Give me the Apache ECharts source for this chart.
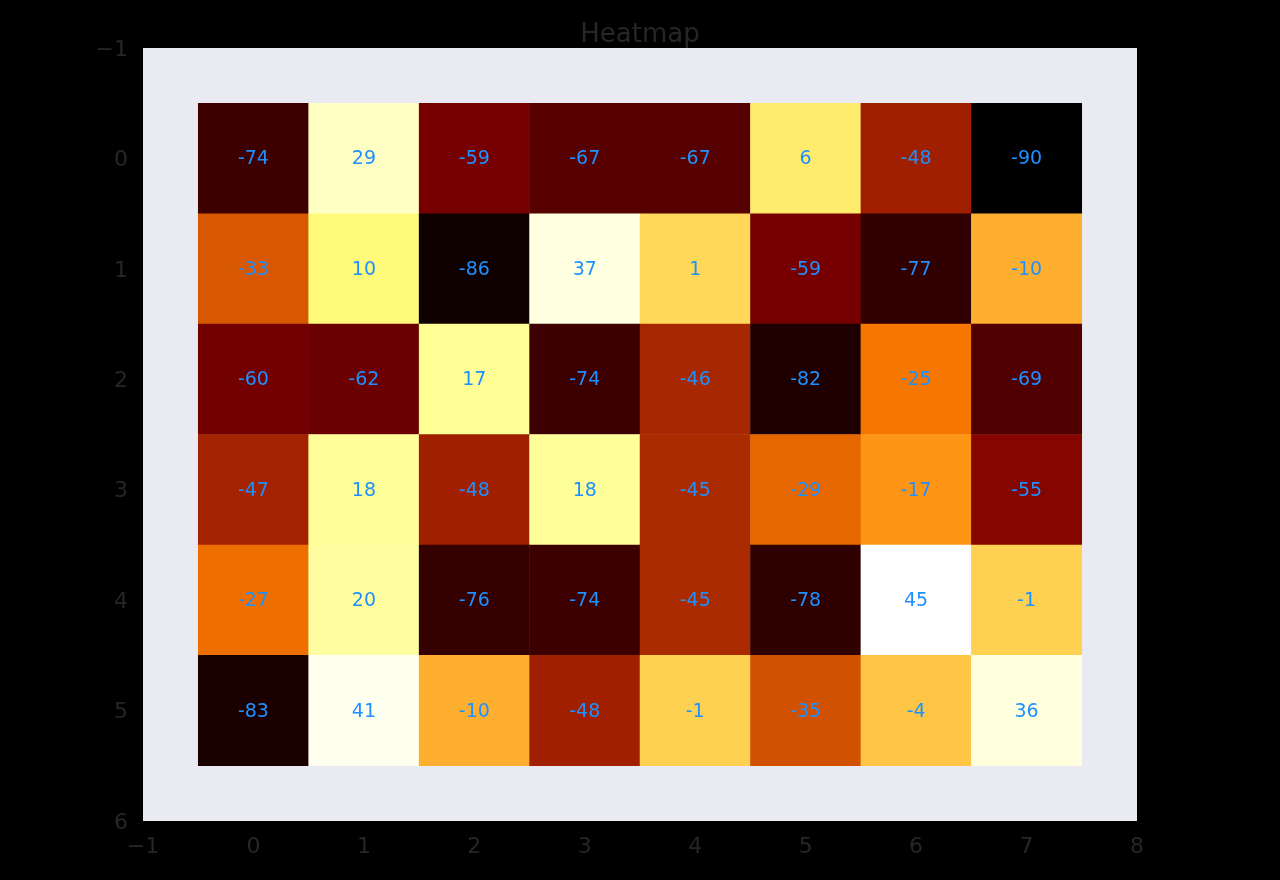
<!DOCTYPE html>
<html>
<head>
<meta charset="utf-8">
<title>Heatmap</title>
<script src="https://cdn.jsdelivr.net/npm/echarts@6/dist/echarts.min.js"></script>
<style>
	html, body { margin: 0; padding: 0; background: #000; }
	#chart { width: 1280px; height: 880px; }
</style>
</head>
<body>
<div id="chart"></div>
<script>
// tick labels (matplotlib style, unicode minus)
const xTicks = ['\u22121', '0', '1', '2', '3', '4', '5', '6', '7', '8'];
const yTicks = ['\u22121', '0', '1', '2', '3', '4', '5', '6'];

// one array per row of the image
const row0 = [-74, 29, -59, -67, -67, 6, -48, -90];
const row1 = [-33, 10, -86, 37, 1, -59, -77, -10];
const row2 = [-60, -62, 17, -74, -46, -82, -25, -69];
const row3 = [-47, 18, -48, 18, -45, -29, -17, -55];
const row4 = [-27, 20, -76, -74, -45, -78, 45, -1];
const row5 = [-83, 41, -10, -48, -1, -35, -4, 36];
const rows = [row0, row1, row2, row3, row4, row5];

const valueMin = -90;
const valueMax = 45;

// afmhot colormap stops (evenly spaced)
const afmhot = ['#000000', '#800000', '#ff8000', '#ffff80', '#ffffff'];

// cell (col, row) sits on tick index col + 1 / row + 1 because the axes start at -1
const cells = [];
rows.forEach((row, r) => {
	row.forEach((v, c) => {
		cells.push([c + 1, r + 1, v]);
	});
});

const tickText = {
	color: '#262626',
	fontSize: 22,
	fontFamily: 'DejaVu Sans'
};

const chart = echarts.init(document.getElementById('chart'));
chart.setOption({
	backgroundColor: '#000000',
	animation: false,
	title: {
		text: 'Heatmap',
		left: 'center',
		top: 17,
		textStyle: {
			color: '#262626',
			fontSize: 26,
			fontWeight: 'normal',
			fontFamily: 'DejaVu Sans'
		}
	},
	grid: {
		left: 143,
		top: 48,
		width: 994,
		height: 773,
		show: true,
		backgroundColor: '#eaeaf2',
		borderWidth: 0
	},
	xAxis: {
		type: 'category',
		data: xTicks,
		boundaryGap: false,
		axisLine: { show: false },
		axisTick: { show: false },
		splitLine: { show: false },
		axisLabel: { ...tickText, margin: 15, interval: 0 }
	},
	yAxis: {
		type: 'category',
		data: yTicks,
		inverse: true,
		boundaryGap: false,
		axisLine: { show: false },
		axisTick: { show: false },
		splitLine: { show: false },
		// small line box hung from the tick nudges the digits ~2px down, like matplotlib
		axisLabel: { ...tickText, margin: 15, interval: 0, verticalAlign: 'top', lineHeight: 4 }
	},
	visualMap: {
		show: false,
		type: 'continuous',
		min: valueMin,
		max: valueMax,
		dimension: 2,
		inRange: { color: afmhot }
	},
	series: [{
		type: 'heatmap',
		data: cells,
		itemStyle: { borderWidth: 0 },
		label: {
			show: true,
			color: '#1e90ff',
			fontSize: 19,
			fontFamily: 'DejaVu Sans',
			offset: [0, 1],
			formatter: (p) => String(p.value[2])
		},
		emphasis: { disabled: true }
	}]
});
</script>
</body>
</html>
